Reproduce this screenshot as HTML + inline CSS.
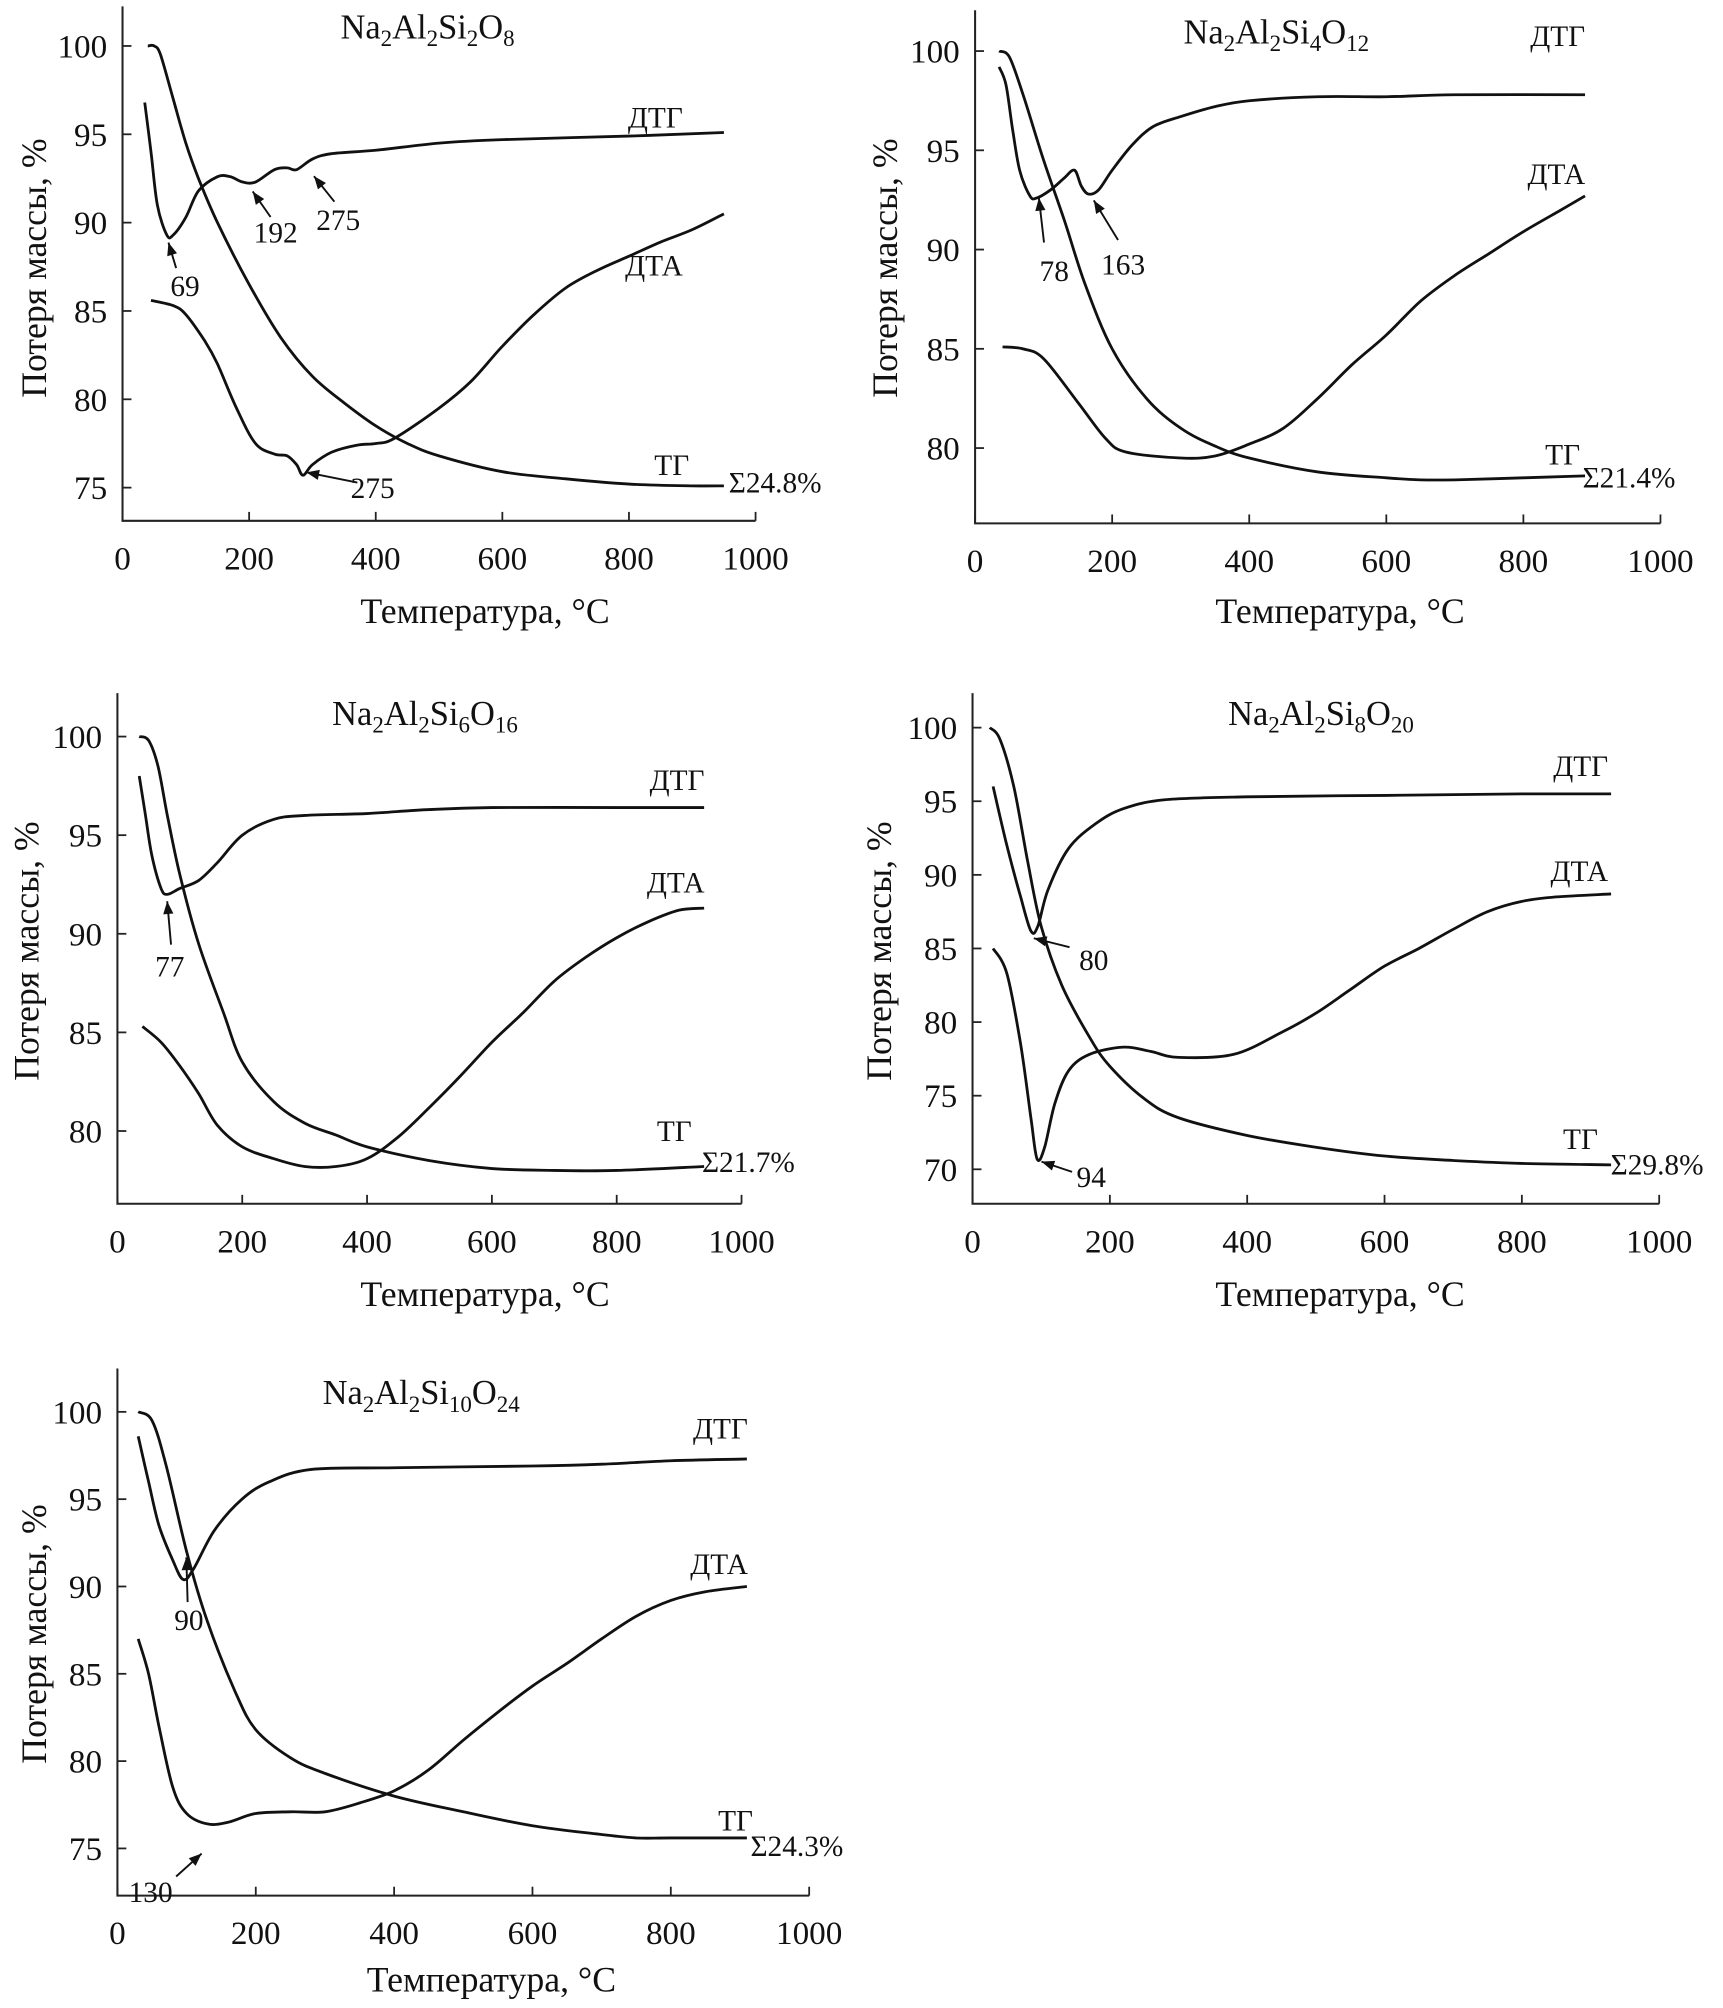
<!DOCTYPE html>
<html><head><meta charset="utf-8">
<style>
html,body{margin:0;padding:0;background:#fff;}
svg{display:block;}
text{font-family:"Liberation Serif",serif;fill:#111;}
</style></head>
<body>
<svg id="chart" width="1723" height="2008" viewBox="0 0 1350 1573" preserveAspectRatio="none" xmlns="http://www.w3.org/2000/svg"></svg>
<script>
// Panel 1: Na2Al2Si2O8
const p1TgT=[40,50,60,80,100,120,150,200,250,300,350,400,450,500,600,700,800,900,950];
const p1TgV=[100,100,99.5,97,94.5,92.5,90,86.5,83.5,81.3,79.8,78.5,77.5,76.8,75.9,75.5,75.2,75.1,75.1];
const p1DtgT=[35,45,55,70,80,100,120,150,170,190,210,240,260,275,300,330,400,500,600,800,950];
const p1DtgV=[96.8,94,91,89.3,89.3,90.3,91.8,92.6,92.6,92.3,92.3,93,93.1,93,93.6,93.9,94.1,94.5,94.7,94.9,95.1];
const p1DtaT=[45,80,100,130,150,180,210,240,260,275,285,300,330,370,400,430,500,550,600,650,700,750,800,850,900,950];
const p1DtaV=[85.6,85.3,84.8,83.3,82,79.5,77.5,76.9,76.8,76.3,75.7,76.3,77,77.4,77.5,77.8,79.5,81,83,84.8,86.3,87.3,88.1,88.9,89.6,90.5];
// Panel 2: Na2Al2Si4O12
const p2TgT=[35,50,70,100,130,160,200,250,300,350,400,500,600,650,700,800,890];
const p2TgV=[100,99.7,97.8,94.5,91.5,88.3,85,82.5,81,80.1,79.5,78.8,78.5,78.4,78.4,78.5,78.6];
const p2DtgT=[35,45,55,65,80,90,110,130,145,155,165,180,200,230,260,300,350,400,500,600,700,890];
const p2DtgV=[99.2,98.3,96,94,92.7,92.6,93,93.6,94,93.2,92.8,93,94,95.3,96.2,96.7,97.2,97.5,97.7,97.7,97.8,97.8];
const p2DtaT=[40,70,100,150,190,220,300,350,400,450,500,550,600,650,700,750,800,850,890];
const p2DtaV=[85.1,85,84.5,82.3,80.5,79.8,79.5,79.6,80.2,81,82.5,84.2,85.7,87.4,88.7,89.8,90.9,91.9,92.7];
// Panel 3: Na2Al2Si6O16
const p3TgT=[35,50,65,80,100,130,170,200,250,300,350,400,500,600,700,800,940];
const p3TgV=[100,99.8,98.5,96,93,89.5,86,83.5,81.5,80.4,79.8,79.2,78.5,78.1,78,78,78.2];
const p3DtgT=[35,45,55,70,80,100,130,160,200,250,300,400,500,600,800,940];
const p3DtgV=[98,96,94,92.3,92,92.3,92.7,93.6,95,95.8,96,96.1,96.3,96.4,96.4,96.4];
const p3DtaT=[40,70,100,130,160,200,250,300,350,400,450,500,550,600,650,700,750,800,850,900,940];
const p3DtaV=[85.3,84.5,83.3,81.9,80.3,79.2,78.6,78.2,78.2,78.6,79.7,81.2,82.8,84.5,86,87.6,88.8,89.8,90.6,91.2,91.3];
// Panel 4: Na2Al2Si8O20
const p4TgT=[25,40,60,80,100,130,170,200,250,300,400,500,600,700,800,930];
const p4TgV=[100,99.2,96,91,86.5,82.5,79,77,74.8,73.5,72.3,71.5,70.9,70.6,70.4,70.3];
const p4DtgT=[30,50,70,85,95,110,140,180,220,280,400,600,800,930];
const p4DtgV=[96,92,88.5,86.2,86.5,89,91.8,93.5,94.5,95.1,95.3,95.4,95.5,95.5];
const p4DtaT=[30,50,70,85,94,105,120,140,170,220,260,300,380,450,500,550,600,650,700,750,800,850,930];
const p4DtaV=[85,83.3,78.5,73.5,70.7,71.5,74.5,76.7,77.8,78.3,78,77.6,77.8,79.3,80.6,82.2,83.8,85,86.3,87.5,88.2,88.5,88.7];
// Panel 5: Na2Al2Si10O24
const p5TgT=[30,50,70,100,130,170,200,250,300,400,500,600,700,750,800,910];
const p5TgV=[100,99.5,97,92,88,84,81.8,80.2,79.3,78,77.1,76.3,75.8,75.6,75.6,75.6];
const p5DtgT=[30,45,60,80,95,110,140,180,220,280,400,600,700,800,910];
const p5DtgV=[98.6,96,93.5,91.5,90.4,91,93.2,95,96,96.7,96.8,96.9,97,97.2,97.3];
const p5DtaT=[30,45,60,80,100,130,160,200,250,300,350,400,450,500,550,600,650,700,750,800,850,910];
const p5DtaV=[87,85,82,78.5,77,76.4,76.5,77,77.1,77.1,77.6,78.3,79.5,81.2,82.8,84.3,85.6,87,88.3,89.2,89.7,90];
const xTicks=[0,200,400,600,800,1000];

const NS="http://www.w3.org/2000/svg";
const svg=document.getElementById('chart');
function mk(tag,attrs,parent){const e=document.createElementNS(NS,tag);for(const k in attrs)e.setAttribute(k,attrs[k]);(parent||svg).appendChild(e);return e;}
function txt(s,x,y,size,parent,anchor){const t=mk('text',{x:x,y:y,'font-size':size,'text-anchor':anchor||'middle'},parent);t.textContent=s;return t;}
function smooth(pts){let d='M'+pts[0][0].toFixed(1)+','+pts[0][1].toFixed(1);
 for(let i=0;i<pts.length-1;i++){const p0=pts[Math.max(i-1,0)],p1=pts[i],p2=pts[i+1],p3=pts[Math.min(i+2,pts.length-1)];
  const c1=[p1[0]+(p2[0]-p0[0])/6,p1[1]+(p2[1]-p0[1])/6],c2=[p2[0]-(p3[0]-p1[0])/6,p2[1]-(p3[1]-p1[1])/6];
  d+=' C'+c1[0].toFixed(1)+','+c1[1].toFixed(1)+' '+c2[0].toFixed(1)+','+c2[1].toFixed(1)+' '+p2[0].toFixed(1)+','+p2[1].toFixed(1);}
 return d;}

const panels=[
 {name:'panel-na2al2si2o8',x0:96,x1000:592,yTop:5,yBot:408,vA:100,pA:36,vB:75,pB:382,yt:[75,80,85,90,95,100],
  title:['Na','2','Al','2','Si','2','O','8'],tx:335,ty:30,xl:[380,488],yl:[28,210],
  series:[[p1TgT,p1TgV,'tg-curve'],[p1DtgT,p1DtgV,'dtg-curve'],[p1DtaT,p1DtaV,'dta-curve']],
  labels:[['ДТГ',535,100,'end'],['ДТА',535,216,'end'],['ТГ',540,372,'end'],['Σ24.8%',571,386,'start']],
  notes:[['69',145,232,[138,210],[132,190]],['192',216,190,[212,170],[198,150]],['275',265,180,[262,158],[246,138]],['275',292,390,[280,378],[240,370]]]},
 {name:'panel-na2al2si4o12',x0:764,x1000:1301,yTop:8,yBot:410,vA:100,pA:40,vB:80,pB:351,yt:[80,85,90,95,100],
  title:['Na','2','Al','2','Si','4','O','12'],tx:1000,ty:34,xl:[1050,488],yl:[695,210],
  series:[[p2TgT,p2TgV,'tg-curve'],[p2DtgT,p2DtgV,'dtg-curve'],[p2DtaT,p2DtaV,'dta-curve']],
  labels:[['ДТГ',1242,36,'end'],['ДТА',1242,144,'end'],['ТГ',1238,364,'end'],['Σ21.4%',1240,382,'start']],
  notes:[['78',826,220,[818,190],[814,155]],['163',880,215,[876,188],[857,157]]]},
 {name:'panel-na2al2si6o16',x0:92,x1000:581,yTop:543,yBot:943,vA:100,pA:577,vB:80,pB:886,yt:[80,85,90,95,100],
  title:['Na','2','Al','2','Si','6','O','16'],tx:333,ty:568,xl:[380,1023],yl:[22,745],
  series:[[p3TgT,p3TgV,'tg-curve'],[p3DtgT,p3DtgV,'dtg-curve'],[p3DtaT,p3DtaV,'dta-curve']],
  labels:[['ДТГ',552,619,'end'],['ДТА',552,699,'end'],['ТГ',542,894,'end'],['Σ21.7%',550,918,'start']],
  notes:[['77',133,765,[134,740],[131,706]]]},
 {name:'panel-na2al2si8o20',x0:762,x1000:1300,yTop:543,yBot:943,vA:100,pA:570,vB:70,pB:916,yt:[70,75,80,85,90,95,100],
  title:['Na','2','Al','2','Si','8','O','20'],tx:1035,ty:568,xl:[1050,1023],yl:[690,745],
  series:[[p4TgT,p4TgV,'tg-curve'],[p4DtgT,p4DtgV,'dtg-curve'],[p4DtaT,p4DtaV,'dta-curve']],
  labels:[['ДТГ',1260,608,'end'],['ДТА',1260,690,'end'],['ТГ',1252,900,'end'],['Σ29.8%',1262,920,'start']],
  notes:[['80',857,760,[838,742],[810,735]],['94',855,930,[840,918],[816,910]]]},
 {name:'panel-na2al2si10o24',x0:92,x1000:634,yTop:1072,yBot:1485,vA:100,pA:1106,vB:75,pB:1448,yt:[75,80,85,90,95,100],
  title:['Na','2','Al','2','Si','10','O','24'],tx:330,ty:1100,xl:[385,1560],yl:[28,1280],
  series:[[p5TgT,p5TgV,'tg-curve'],[p5DtgT,p5DtgV,'dtg-curve'],[p5DtaT,p5DtaV,'dta-curve']],
  labels:[['ДТГ',586,1127,'end'],['ДТА',586,1233,'end'],['ТГ',590,1434,'end'],['Σ24.3%',588,1454,'start']],
  notes:[['130',118,1490,[138,1470],[158,1452]],['90',148,1277,[147,1255],[146,1220]]]}
];

panels.forEach(P=>{
 const g=mk('g',{});
 
 
 const sx=t=>P.x0+(P.x1000-P.x0)*t/1000;
 const sy=v=>P.pA+(P.pB-P.pA)*(v-P.vA)/(P.vB-P.vA);
 const ax=mk('path',{d:`M${P.x0},${P.yTop} V${P.yBot} H${P.x1000}`,fill:'none',stroke:'#222','stroke-width':1.6},g);
 
 
 xTicks.forEach(t=>{
  const tk=mk('line',{x1:sx(t),x2:sx(t),y1:P.yBot,y2:P.yBot-7,stroke:'#222','stroke-width':1.4},g);
  
  
  const l=txt(String(t),sx(t),P.yBot+38,26,g);
  
  
 });
 P.yt.forEach(v=>{
  const tk=mk('line',{x1:P.x0,x2:P.x0+7,y1:sy(v),y2:sy(v),stroke:'#222','stroke-width':1.4},g);
  
  
  const l=txt(String(v),P.x0-12,sy(v)+9,26,g,'end');
  
  
 });
 const xl=txt('Температура, °C',P.xl[0],P.xl[1],28,g);
 
 
 const yl=txt('Потеря массы, %',0,0,28,g);
 yl.setAttribute('transform',`translate(${P.yl[0]+8},${P.yl[1]}) rotate(-90)`);
 
 
 const tt=mk('text',{x:P.tx,y:P.ty,'font-size':27,'text-anchor':'middle'},g);
 
 
 P.title.forEach((s,i)=>{const ts=mk('tspan',{},tt);ts.textContent=s;
  if(i%2===1){ts.setAttribute('font-size',18);ts.setAttribute('dy',6);}else if(i>0){ts.setAttribute('dy',-6);} });
 P.series.forEach(s=>{
  const pts=s[0].map((t,i)=>[sx(t),sy(s[1][i])]);
  const p=mk('path',{d:smooth(pts),fill:'none',stroke:'#111','stroke-width':2.2,'stroke-linejoin':'round'},g);
  
  
 });
 P.labels.forEach(l=>{
  const t=txt(l[0],l[1],l[2],23,g,l[3]);
  
  
 });
 P.notes.forEach(n=>{
  const t=txt(n[0],n[1],n[2],23,g);
  
  
  const a=n[3],b=n[4];
  const ln=mk('line',{x1:a[0],y1:a[1],x2:b[0],y2:b[1],stroke:'#111','stroke-width':1.5},g);
  
  
  const ang=Math.atan2(b[1]-a[1],b[0]-a[0]),L=10,W=4;
  const bx=b[0]-L*Math.cos(ang),by=b[1]-L*Math.sin(ang);
  const hd=mk('polygon',{points:`${b[0]},${b[1]} ${bx-W*Math.sin(ang)},${by+W*Math.cos(ang)} ${bx+W*Math.sin(ang)},${by-W*Math.cos(ang)}`,fill:'#111'},g);
  
  
 });
});
</script>
</body></html>
